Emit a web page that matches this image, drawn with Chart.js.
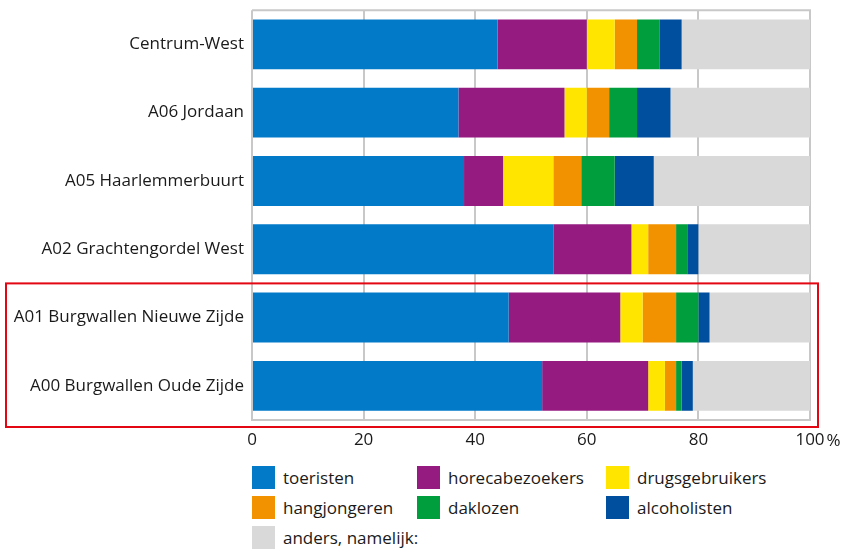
<!DOCTYPE html>
<html>
<head>
<meta charset="utf-8">
<script src="https://cdn.jsdelivr.net/npm/chart.js@4/dist/chart.umd.min.js"></script>
<style>
  body { margin: 0; background: #fff; font-family: "Open Sans", sans-serif; color: #1a1a1a; }
  #wrap { position: relative; width: 841px; height: 552px; }
  #chart { position: absolute; left: 0; top: 0; }
  #legend { position: absolute; left: 252px; top: 466px; display: grid;
            grid-template-columns: 165px 189px 200px; row-gap: 7px; }
  .item { display: flex; align-items: center; height: 23px; font-size: 17px; white-space: nowrap; }
  .box { width: 23px; height: 23px; margin-right: 8px; flex: none; }
</style>
</head>
<body>
<div id="wrap">
  <canvas id="chart" width="841" height="460"></canvas>
  <div id="legend"></div>
</div>
<script>
// ---- Daten ----
const buurten = ['Centrum-West', 'A06 Jordaan', 'A05 Haarlemmerbuurt', 'A02 Grachtengordel West',
                 'A01 Burgwallen Nieuwe Zijde', 'A00 Burgwallen Oude Zijde'];
const toeristen      = [44, 37, 38, 54, 46, 52];
const horecabezoekers = [16, 19, 7, 14, 20, 19];
const drugsgebruikers = [5, 4, 9, 3, 4, 3];
const hangjongeren   = [4, 4, 5, 5, 6, 2];
const daklozen       = [4, 5, 6, 2, 4, 1];
const alcoholisten   = [4, 6, 7, 2, 2, 2];
const anders         = [23, 25, 28, 20, 18, 21];
const xTicks = [0, 20, 40, 60, 80, 100];

const series = [
    { label: 'toeristen', data: toeristen, color: '#027ac8' },
    { label: 'horecabezoekers', data: horecabezoekers, color: '#951b81' },
    { label: 'drugsgebruikers', data: drugsgebruikers, color: '#ffe500' },
    { label: 'hangjongeren', data: hangjongeren, color: '#f39200' },
    { label: 'daklozen', data: daklozen, color: '#009e3d' },
    { label: 'alcoholisten', data: alcoholisten, color: '#004f9e' },
    { label: 'anders, namelijk:', data: anders, color: '#d9d9d9' }
];

const gridColor = '#c8c8c8';
const textColor = '#1a1a1a';
const fontFamily = '"Open Sans"';

// ---- Extra's: bovenrand, procentteken, rode kader ----
const extras = {
    id: 'extras',
    afterDatasetsDraw(chart) {
        const ctx = chart.ctx;
        const area = chart.chartArea;
        ctx.save();
        ctx.strokeStyle = gridColor;
        ctx.lineWidth = 2;
        ctx.beginPath();
        ctx.moveTo(area.left, area.top);
        ctx.lineTo(area.right + 1, area.top);
        ctx.stroke();
        ctx.restore();
    },
    afterDraw(chart) {
        const ctx = chart.ctx;
        const area = chart.chartArea;
        const x = chart.scales.x;
        const y = chart.scales.y;
        ctx.save();
        // % na laatste tick
        ctx.font = '17px ' + fontFamily;
        ctx.fillStyle = textColor;
        ctx.textBaseline = 'middle';
        const lastX = x.getPixelForValue(100);
        const w = ctx.measureText('100').width;
        ctx.fillText('%', lastX + w / 2 + 2, area.bottom + 21);
        // rode kader rond A01 en A00
        const band = y.getPixelForValue(1) - y.getPixelForValue(0);
        const top = y.getPixelForValue(4) - band / 2;
        ctx.strokeStyle = '#e30613';
        ctx.lineWidth = 2;
        ctx.strokeRect(6, top, area.right + 8 - 6, area.bottom + 7 - top);
        ctx.restore();
    }
};

const chart = new Chart(document.getElementById('chart').getContext('2d'), {
    type: 'bar',
    data: {
        labels: buurten,
        datasets: series.map(s => ({
            label: s.label,
            data: s.data,
            backgroundColor: s.color,
            borderWidth: 0,
            barPercentage: 0.73,
            categoryPercentage: 1
        }))
    },
    options: {
        indexAxis: 'y',
        responsive: false,
        animation: false,
        layout: { padding: { top: 4, right: 31, left: 0, bottom: 0 } },
        plugins: { legend: { display: false }, tooltip: { enabled: false } },
        scales: {
            x: {
                stacked: true,
                min: 0,
                max: 100,
                afterBuildTicks: scale => { scale.ticks = xTicks.map(v => ({ value: v })); },
                grid: { color: gridColor, lineWidth: 2, drawTicks: false },
                border: { color: gridColor, width: 2 },
                ticks: { color: textColor, font: { family: fontFamily, size: 17 }, padding: 10 },
                afterFit: scale => { scale.height = 40; }
            },
            y: {
                stacked: true,
                grid: { display: false },
                border: { display: false },
                ticks: { color: textColor, font: { family: fontFamily, size: 17 }, padding: 0 },
                afterFit: scale => { scale.width = 252; }
            }
        }
    },
    plugins: [extras]
});

// ---- Legende ----
const legend = document.getElementById('legend');
series.forEach(s => {
    const item = document.createElement('div');
    item.className = 'item';
    item.innerHTML = `<span class="box" style="background:${s.color}"></span>${s.label}`;
    legend.appendChild(item);
});
</script>
</body>
</html>
